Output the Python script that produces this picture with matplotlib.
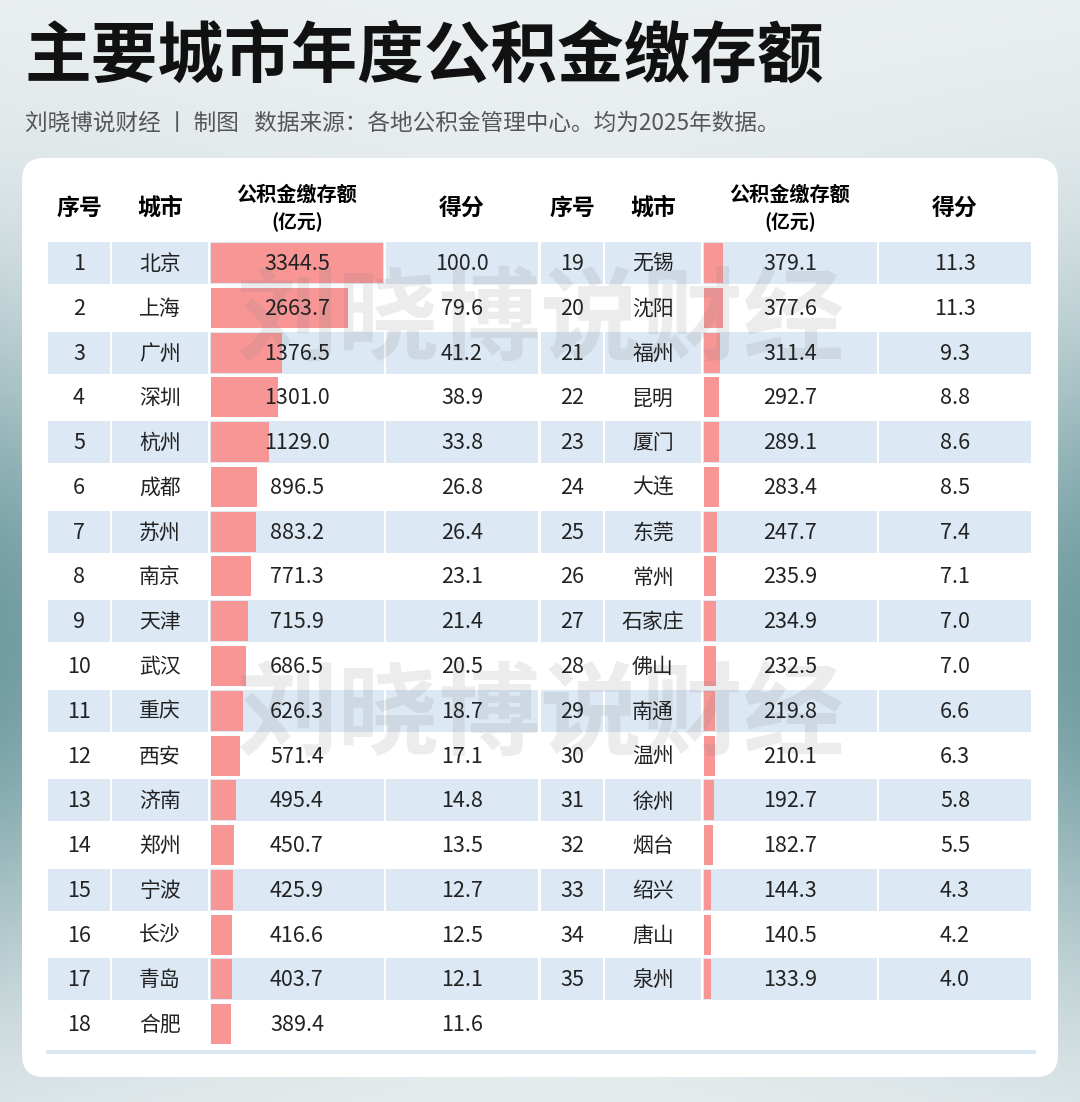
import numpy as np
import matplotlib.pyplot as plt
from matplotlib.patches import FancyBboxPatch, Rectangle

plt.rcParams['font.family'] = ['Noto Sans CJK SC', 'DejaVu Sans']

# data: rank, city, deposit amount (100 million yuan), score
ranks = list(range(1, 36))
cities = ['北京', '上海', '广州', '深圳', '杭州', '成都', '苏州', '南京', '天津',
          '武汉', '重庆', '西安', '济南', '郑州', '宁波', '长沙', '青岛', '合肥',
          '无锡', '沈阳', '福州', '昆明', '厦门', '大连', '东莞', '常州', '石家庄',
          '佛山', '南通', '温州', '徐州', '烟台', '绍兴', '唐山', '泉州']
amounts = [3344.5, 2663.7, 1376.5, 1301.0, 1129.0, 896.5, 883.2, 771.3, 715.9,
           686.5, 626.3, 571.4, 495.4, 450.7, 425.9, 416.6, 403.7, 389.4,
           379.1, 377.6, 311.4, 292.7, 289.1, 283.4, 247.7, 235.9, 234.9,
           232.5, 219.8, 210.1, 192.7, 182.7, 144.3, 140.5, 133.9]
scores = [100.0, 79.6, 41.2, 38.9, 33.8, 26.8, 26.4, 23.1, 21.4,
          20.5, 18.7, 17.1, 14.8, 13.5, 12.7, 12.5, 12.1, 11.6,
          11.3, 11.3, 9.3, 8.8, 8.6, 8.5, 7.4, 7.1, 7.0,
          7.0, 6.6, 6.3, 5.8, 5.5, 4.3, 4.2, 4.0]

title = '主要城市年度公积金缴存额'
subtitle = '刘晓博说财经 丨 制图   数据来源：各地公积金管理中心。均为2025年数据。'
watermark = '刘晓博说财经'

W, H = 1080, 1102
fig = plt.figure(figsize=(W / 100, H / 100), dpi=100)
ax = fig.add_axes([0, 0, 1, 1])
ax.set_xlim(0, W)
ax.set_ylim(H, 0)
ax.axis('off')

# background gradient (light grey -> teal at the sides)
yy, xx = np.mgrid[0:H:4, 0:W:4]
edge = np.abs(xx - W / 2) / (W / 2)
w = np.exp(-((yy - 640) / 330.0) ** 2) * (0.35 + 0.65 * edge ** 1.5)
light = np.array([236, 240, 242]) / 255
teal = np.array([112, 156, 160]) / 255
bg = light[None, None, :] * (1 - w[..., None]) + teal[None, None, :] * w[..., None]
ax.imshow(bg, extent=[0, W, H, 0], aspect='auto', zorder=0)

# title & subtitle
ax.text(24, 58, title, fontsize=48, fontweight='black', color='#111111',
        ha='left', va='center')
ax.text(25, 123, subtitle, fontsize=16.3, color='#555555', ha='left', va='center')

# white card
card = FancyBboxPatch((22, 158), 1036, 919, boxstyle='round,pad=0,rounding_size=22',
                      fc='white', ec='none', zorder=1)
ax.add_patch(card)

blue = '#dce8f4'
bar_col = '#f89696'
col_edges = [(48, 110), (112, 208), (210, 384), (386, 538)]
col_cx = [79, 160, 297, 462]
offset = 493
y0 = 263
pitch = 44.78
row_h = 42
bar_max = 172
scale = bar_max / max(amounts)

blocks = [(0, 18, 0), (18, 35, offset)]
for start, end, dx in blocks:
    # headers
    ax.text(col_cx[0] + dx, 208, '序号', fontsize=16.5, fontweight='bold', ha='center', va='center', zorder=5)
    ax.text(col_cx[1] + dx, 208, '城市', fontsize=16.5, fontweight='bold', ha='center', va='center', zorder=5)
    ax.text(col_cx[2] + dx, 194, '公积金缴存额', fontsize=14.5, fontweight='bold', ha='center', va='center', zorder=5)
    ax.text(col_cx[2] + dx, 222, '(亿元)', fontsize=13.5, fontweight='bold', ha='center', va='center', zorder=5)
    ax.text(col_cx[3] + dx, 208, '得分', fontsize=16.5, fontweight='bold', ha='center', va='center', zorder=5)

    idx = np.arange(start, end)
    yc = y0 + (idx - start) * pitch
    # striped rows
    for i, y in zip(idx, yc):
        if (i - start) % 2 == 0:
            for a, b in col_edges:
                ax.add_patch(Rectangle((a + dx, y - row_h / 2), b - a, row_h,
                                       fc=blue, ec='none', zorder=2))
    # bars
    ax.barh(yc, np.array(amounts[start:end]) * scale, left=col_edges[2][0] + dx + 1,
            height=row_h - 2, color=bar_col, zorder=3)
    # cell texts
    for i, y in zip(idx, yc):
        ax.text(col_cx[0] + dx, y + 1, str(ranks[i]), fontsize=15.5, color='#222222',
                ha='center', va='center', zorder=5)
        ax.text(col_cx[1] + dx, y + 1, cities[i], fontsize=15, color='#222222',
                ha='center', va='center', zorder=5)
        ax.text(col_cx[2] + dx, y + 1, f'{amounts[i]:.1f}', fontsize=15.5, color='#222222',
                ha='center', va='center', zorder=5)
        ax.text(col_cx[3] + dx, y + 1, f'{scores[i]:.1f}', fontsize=15.5, color='#222222',
                ha='center', va='center', zorder=5)

# bottom rule
ax.plot([46, 1036], [1052, 1052], color=blue, lw=3, solid_capstyle='butt', zorder=2)

# watermarks
for wy in (323, 718):
    ax.text(540, wy, watermark, fontsize=73, fontweight='bold', color='#808080',
            alpha=0.15, ha='center', va='center', zorder=4)

fig.savefig('out.png', dpi=100)
